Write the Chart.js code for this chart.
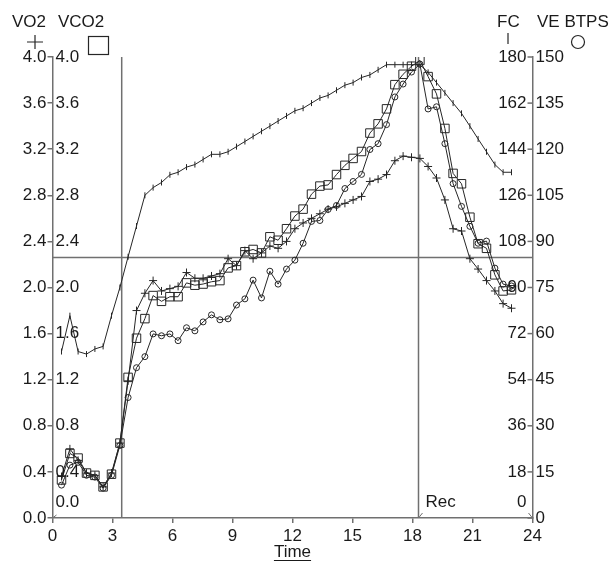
<!DOCTYPE html>
<html>
<head>
<meta charset="utf-8">
<title>VO2 VCO2 FC VE BTPS</title>
<script src="https://cdn.jsdelivr.net/npm/chart.js@4.4.0/dist/chart.umd.min.js"></script>
<style>
  html, body { margin: 0; padding: 0; background: #fff; }
</style>
</head>
<body>
<canvas id="chart" width="615" height="564"></canvas>
<script>
// sample times (min), one breath-average every ~25 s
const times = [0.45, 0.87, 1.28, 1.70, 2.12, 2.53, 2.95, 3.37, 3.78, 4.20, 4.62, 5.03, 5.45, 5.87, 6.28,
  6.70, 7.12, 7.53, 7.95, 8.37, 8.78, 9.20, 9.62, 10.03, 10.45, 10.87, 11.28, 11.70, 12.12, 12.53,
  12.95, 13.37, 13.78, 14.20, 14.62, 15.03, 15.45, 15.87, 16.28, 16.70, 17.12, 17.53, 17.95, 18.37,
  18.78, 19.20, 19.62, 20.03, 20.45, 20.87, 21.28, 21.70, 22.12, 22.53, 22.95];

// VO2 (l/min)
const vo2 = [0.36, 0.60, 0.50, 0.39, 0.37, 0.27, 0.39, 0.65, 1.19, 1.80, 1.95, 2.06, 1.97, 1.99, 2.01,
  2.13, 2.08, 2.08, 2.10, 2.12, 2.25, 2.19, 2.32, 2.25, 2.30, 2.36, 2.34, 2.40, 2.51, 2.56,
  2.60, 2.64, 2.68, 2.70, 2.73, 2.76, 2.79, 2.92, 2.94, 2.98, 3.10, 3.14, 3.13, 3.12,
  3.05, 2.95, 2.76, 2.51, 2.49, 2.25, 2.16, 2.06, 1.97, 1.86, 1.82];

// VCO2 (l/min)
const vco2 = [0.33, 0.56, 0.52, 0.39, 0.37, 0.27, 0.38, 0.65, 1.22, 1.56, 1.73, 1.93, 1.88, 1.92, 1.92,
  2.04, 2.02, 2.03, 2.05, 2.06, 2.17, 2.19, 2.31, 2.33, 2.30, 2.44, 2.41, 2.51, 2.62, 2.68,
  2.81, 2.88, 2.89, 2.98, 3.06, 3.12, 3.18, 3.34, 3.42, 3.55, 3.76, 3.85, 3.92, 3.97,
  3.83, 3.68, 3.38, 2.99, 2.90, 2.61, 2.38, 2.34, 2.11, 1.97, 1.98];

// FC heart rate (bpm)
const fc = [65, 79, 65, 64, 66, 67, 79, 90, 102, 114, 126, 129, 131, 134, 135,
  137, 138, 140, 142, 142, 143, 145, 147, 149, 151, 153, 155, 157, 159, 160,
  162, 164, 165, 167, 169, 170, 172, 173, 175, 177, 177, 177, 177, 177,
  174, 170, 166, 162, 158, 153, 148, 143, 138, 135, 135];

// VE BTPS (l/min)
const ve = [10.7, 17.2, 18.1, 13.9, 13.3, 9.7, 13.9, 23.6, 39.2, 48.9, 52.5, 59.9, 59.3, 59.9, 57.7,
  61.9, 60.9, 63.8, 66.1, 64.5, 64.8, 69.3, 71.3, 77.4, 71.6, 80.3, 76.1, 81.0, 83.9, 89.4,
  96.5, 96.8, 100.4, 101.7, 107.2, 109.5, 111.8, 119.9, 121.8, 128.0, 137.0, 141.2, 145.1, 147.7,
  133.1, 133.8, 121.8, 108.8, 101.4, 94.9, 89.4, 90.1, 81.3, 76.1, 75.5];

// tick labels
const xTicks = [0, 3, 6, 9, 12, 15, 18, 21, 24];
const gasTicks = [0, 0.4, 0.8, 1.2, 1.6, 2.0, 2.4, 2.8, 3.2, 3.6, 4.0];
const fcTicks = [0, 18, 36, 54, 72, 90, 108, 126, 144, 162, 180];
const veTicks = [0, 15, 30, 45, 60, 75, 90, 105, 120, 135, 150];

// markers: threshold time, recovery start, threshold level (VO2 units)
const vtTime = 3.46;
const recTime = 18.3;
const vtLevel = 2.26;

const INK = '#262626';
const AXIS = '#707070';
const FONT = "'Liberation Sans', Arial, sans-serif";

Chart.defaults.font.family = FONT;
Chart.defaults.font.size = 17;
Chart.defaults.color = '#1a1a1a';

const pts = (arr) => times.map((t, i) => ({ x: t, y: arr[i] }));

const decor = {
  id: 'decor',
  beforeDatasetsDraw(chart) {
    const { ctx, chartArea: a, scales } = chart;
    const xv = scales.x.getPixelForValue(vtTime);
    const xr = scales.x.getPixelForValue(recTime);
    const yh = scales.y.getPixelForValue(vtLevel);
    ctx.save();
    ctx.strokeStyle = AXIS;
    ctx.lineWidth = 1.5;
    ctx.beginPath();
    ctx.moveTo(xv, a.top); ctx.lineTo(xv, a.bottom);
    ctx.moveTo(xr, a.top); ctx.lineTo(xr, a.bottom);
    ctx.moveTo(a.left, yh); ctx.lineTo(a.right, yh);
    ctx.stroke();
    ctx.restore();
  },
  afterDraw(chart) {
    const { ctx, chartArea: a, scales } = chart;
    ctx.save();
    ctx.fillStyle = '#1a1a1a';
    ctx.font = '17px ' + FONT;
    ctx.textBaseline = 'middle';

    // VCO2 labels, inside the plot on the left
    ctx.textAlign = 'left';
    gasTicks.forEach(v => {
      let y = scales.yVCO2.getPixelForValue(v);
      if (v === 0) y -= 16;
      ctx.fillText(v.toFixed(1), a.left + 3, y);
    });

    // FC labels + inward ticks, inside the plot on the right
    ctx.textAlign = 'right';
    ctx.strokeStyle = AXIS;
    ctx.lineWidth = 1.5;
    fcTicks.forEach(v => {
      let y = scales.yFC.getPixelForValue(v);
      ctx.beginPath();
      ctx.moveTo(a.right - 5, y); ctx.lineTo(a.right, y);
      ctx.stroke();
      if (v === 0) y -= 16;
      ctx.fillText(String(v), a.right - 6, y);
    });

    // recovery label and small corner marks
    const xr = scales.x.getPixelForValue(recTime);
    ctx.textAlign = 'left';
    ctx.fillText('Rec', xr + 7, a.bottom - 16);
    ctx.lineWidth = 1;
    ctx.beginPath();
    ctx.moveTo(xr + 4, a.bottom - 5); ctx.lineTo(xr, a.bottom);
    ctx.moveTo(a.left + 4, a.bottom - 3); ctx.lineTo(a.left, a.bottom);
    ctx.moveTo(a.right - 4, a.bottom - 5); ctx.lineTo(a.right, a.bottom);
    ctx.stroke();

    // header legend
    ctx.textAlign = 'left';
    ctx.fillText('VO2', 12, 22);
    ctx.fillText('VCO2', 58, 22);
    ctx.fillText('FC', 497, 22);
    ctx.fillText('VE BTPS', 537, 22);
    ctx.strokeStyle = INK;
    ctx.lineWidth = 1.2;
    ctx.beginPath();
    ctx.moveTo(27, 42); ctx.lineTo(43, 42);
    ctx.moveTo(35, 35); ctx.lineTo(35, 49);
    ctx.moveTo(508, 33); ctx.lineTo(508, 44);
    ctx.stroke();
    ctx.strokeRect(88.5, 36.5, 20, 18);
    ctx.beginPath();
    ctx.arc(578, 42, 6.5, 0, Math.PI * 2);
    ctx.stroke();

    // axis title, underlined
    const cx = (a.left + a.right) / 2;
    ctx.textAlign = 'center';
    ctx.fillText('Time', cx, 552);
    const w = ctx.measureText('Time').width;
    ctx.strokeStyle = '#1a1a1a';
    ctx.lineWidth = 1;
    ctx.beginPath();
    ctx.moveTo(cx - w / 2, 560.5); ctx.lineTo(cx + w / 2, 560.5);
    ctx.stroke();
    ctx.restore();
  }
};

const lineStyle = {
  borderColor: INK,
  borderWidth: 1,
  pointBorderColor: INK,
  pointBackgroundColor: 'rgba(255,255,255,0)',
  pointBorderWidth: 1,
  tension: 0,
  fill: false
};

new Chart(document.getElementById('chart'), {
  type: 'line',
  data: {
    datasets: [
      { ...lineStyle, label: 'FC', data: pts(fc), yAxisID: 'yFC', pointStyle: 'line', rotation: 90, pointRadius: 3 },
      { ...lineStyle, label: 'VE BTPS', data: pts(ve), yAxisID: 'yVE', pointStyle: 'circle', pointRadius: 3 },
      { ...lineStyle, label: 'VCO2', data: pts(vco2), yAxisID: 'yVCO2', pointStyle: 'rect', pointRadius: 6 },
      { ...lineStyle, label: 'VO2', data: pts(vo2), yAxisID: 'y', pointStyle: 'cross', pointRadius: 4 }
    ]
  },
  options: {
    responsive: false,
    animation: false,
    layout: { padding: { left: 6, right: 35, top: 57, bottom: 0 } },
    plugins: { legend: { display: false }, tooltip: { enabled: false } },
    scales: {
      x: {
        type: 'linear', min: 0, max: 24,
        afterBuildTicks: s => { s.ticks = xTicks.map(v => ({ value: v })); },
        afterFit: s => { s.height = 46; },
        ticks: { padding: 3, maxRotation: 0 },
        grid: { drawOnChartArea: false, tickLength: 5, color: AXIS, lineWidth: 1.5 },
        border: { color: AXIS, width: 1.5 }
      },
      y: {
        position: 'left', min: 0, max: 4,
        afterBuildTicks: s => { s.ticks = gasTicks.map(v => ({ value: v })); },
        afterFit: s => { s.width = 46.5; },
        ticks: { padding: 1, callback: v => Number(v).toFixed(1) },
        grid: { drawOnChartArea: false, tickLength: 5, color: AXIS, lineWidth: 1.5 },
        border: { color: AXIS, width: 1.5 }
      },
      yVCO2: { display: false, min: 0, max: 4 },
      yFC: { display: false, min: 0, max: 180 },
      yVE: {
        position: 'right', min: 0, max: 150,
        afterBuildTicks: s => { s.ticks = veTicks.map(v => ({ value: v })); },
        afterFit: s => { s.width = 47.5; },
        ticks: { padding: 3 },
        grid: { drawOnChartArea: false, drawTicks: false },
        border: { color: AXIS, width: 1.5 }
      }
    }
  },
  plugins: [decor]
});
</script>
</body>
</html>
